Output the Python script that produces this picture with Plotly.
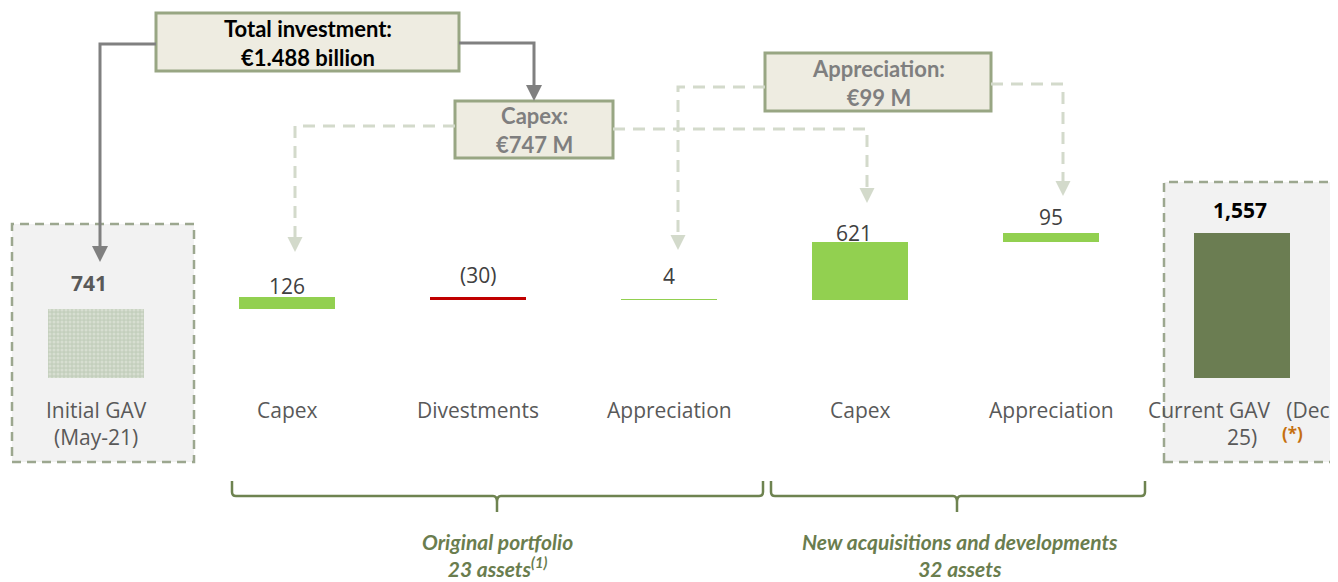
import plotly.graph_objects as go

# ---------------- data ----------------
categories = ["Initial GAV<br>(May-21)", "Capex", "Divestments", "Appreciation",
              "Capex", "Appreciation", "Current GAV   (Dec-<br>25)"]
values = [741, 126, -30, 4, 621, 95, 1557]
kinds = ["total", "relative", "relative", "relative", "relative", "relative", "total"]
value_labels = ["741", "126", "(30)", "4", "621", "95", "1,557"]
bar_colors = ["#c4cfbd", "#92d050", "#c00000", "#92d050", "#92d050", "#92d050", "#6b7d52"]
group_labels = ["Original portfolio<br>23 assets<sup>(1)</sup>",
                "New acquisitions and developments<br>32 assets"]
box_texts = ["Total investment:<br>€1.488 billion", "Capex:<br>€747 M", "Appreciation:<br>€99 M"]

# page offset (browser body margin)
OFF = 8
W, H = 1338 - OFF, 582 - OFF

# waterfall bases computed from values
bases, heights = [], []
run = 0
for v, k in zip(values, kinds):
    if k == "total":
        bases.append(0)
        heights.append(v)
        run = v
    else:
        bases.append(run)
        heights.append(v)
        run += v

xs = list(range(len(values)))

def px(x):
    return (x - OFF) / W

def py(y):
    return 1 - (y - OFF) / H

fig = go.Figure()

# pattern bar (Initial GAV)
fig.add_trace(go.Bar(
    x=[xs[0]], y=[heights[0]], base=[bases[0]], width=0.505,
    marker=dict(color=bar_colors[0], line=dict(width=0),
                pattern=dict(shape=".", fgcolor="#e9ede6", bgcolor=bar_colors[0], size=4, solidity=0.45)),
    hoverinfo="skip", showlegend=False))
fig.add_trace(go.Bar(
    x=xs[1:], y=heights[1:], base=bases[1:], width=0.505,
    marker=dict(color=bar_colors[1:], line=dict(width=0)),
    hoverinfo="skip", showlegend=False))

shapes = []
annotations = []

# dashed grey boxes around totals
for (x0, y0, x1, y1) in [(12, 224, 194, 462), (1164, 182, 1346, 462)]:
    shapes.append(dict(type="rect", xref="paper", yref="paper",
                       x0=px(x0), x1=px(x1), y0=py(y1), y1=py(y0),
                       fillcolor="#f2f2f2", line=dict(color="#9ca78f", width=2.5, dash="9px,6px"),
                       layer="below"))

# label boxes
boxes = [(156, 13, 459, 71, "#000000"), (455, 101, 613, 158, "#7f7f7f"), (765, 53, 991, 111, "#7f7f7f")]
for (x0, y0, x1, y1, col), t in zip(boxes, box_texts):
    shapes.append(dict(type="rect", xref="paper", yref="paper",
                       x0=px(x0), x1=px(x1), y0=py(y1), y1=py(y0),
                       fillcolor="#eeece1", line=dict(color="#98a683", width=3)))
    annotations.append(dict(xref="paper", yref="paper", x=px((x0 + x1) / 2), y=py((y0 + y1) / 2 + 1),
                            text="<b>" + t + "</b>", showarrow=False, align="center",
                            font=dict(family="Lato", size=22, color=col),
                            xanchor="center", yanchor="middle"))

def path(points):
    return "M " + " L ".join(f"{px(x)},{py(y)}" for x, y in points)

def tri(xc, ytip, w=16, h=16):
    return path([(xc - w / 2, ytip - h), (xc + w / 2, ytip - h), (xc, ytip)]) + " Z"

solid = "#808080"
light = "#d3dacb"
# solid arrows
for pts in [[(156, 44), (100, 44), (100, 248)], [(459, 43), (534, 43), (534, 88)]]:
    shapes.append(dict(type="path", xref="paper", yref="paper", path=path(pts),
                       line=dict(color=solid, width=3)))
for xc, yt in [(100, 262), (534, 101)]:
    shapes.append(dict(type="path", xref="paper", yref="paper", path=tri(xc, yt),
                       fillcolor=solid, line=dict(width=0)))
# dashed arrows
for pts in [[(455, 126), (295, 126), (295, 238)], [(613, 129), (867, 129), (867, 190)],
            [(765, 87), (678, 87), (678, 236)], [(991, 84), (1063, 84), (1063, 182)]]:
    shapes.append(dict(type="path", xref="paper", yref="paper", path=path(pts),
                       line=dict(color=light, width=3, dash="12px,8px")))
for xc, yt in [(295, 252), (867, 203), (678, 250), (1063, 196)]:
    shapes.append(dict(type="path", xref="paper", yref="paper", path=tri(xc, yt, 15, 15),
                       fillcolor=light, line=dict(width=0)))

# braces
brace_col = "#6e8350"
for xl, xm, xr in [(232, 497, 763), (771, 957, 1145)]:
    p = (f"M {px(xl)},{py(481)} L {px(xl)},{py(492)} Q {px(xl)},{py(496)} {px(xl+4)},{py(496)} "
         f"L {px(xm-4)},{py(496)} Q {px(xm)},{py(496)} {px(xm)},{py(502)} L {px(xm)},{py(512)} "
         f"M {px(xm)},{py(502)} Q {px(xm)},{py(496)} {px(xm+4)},{py(496)} "
         f"L {px(xr-4)},{py(496)} Q {px(xr)},{py(496)} {px(xr)},{py(492)} L {px(xr)},{py(481)}")
    shapes.append(dict(type="path", xref="paper", yref="paper", path=p,
                       line=dict(color=brace_col, width=2.5)))

for cx, t in zip([497, 960], group_labels):
    annotations.append(dict(xref="paper", yref="paper", x=px(cx), y=py(555),
                            text="<b><i>" + t + "</i></b>", showarrow=False, align="center",
                            font=dict(family="Lato", size=21, color="#6a7d4e"),
                            xanchor="center", yanchor="middle"))

# category labels
for i, c in enumerate(categories):
    two = "<br>" in c
    annotations.append(dict(xref="x", yref="paper", x=xs[i], y=py(423.5 if two else 410),
                            text=c, showarrow=False, align="center",
                            font=dict(family="Open Sans", size=21, color="#595959"),
                            xanchor="center", yanchor="middle"))
annotations.append(dict(xref="paper", yref="paper", x=px(1292), y=py(433), text="<b>(*)</b>",
                        showarrow=False, font=dict(family="Open Sans", size=17, color="#c5700f"),
                        xanchor="center", yanchor="middle"))

# value labels (centre offset in pixels above each bar top)
tops = [max(b, b + h) for b, h in zip(bases, heights)]
offsets = [26, 11, 22, 24, 9, 16, 23]
dx = [-7, 0, 0, 0, -6, 0, -2]
for i, t in enumerate(value_labels):
    bold = i in (0, 6)
    annotations.append(dict(xref="x", yref="y", x=xs[i], y=tops[i], yshift=offsets[i], xshift=dx[i],
                            text=("<b>" + t + "</b>") if bold else t, showarrow=False,
                            font=dict(family="Open Sans", size=21,
                                      color="#000000" if i == 6 else ("#595959" if i == 0 else "#404040")),
                            xanchor="center", yanchor="middle"))

y_top = (378 - OFF) / 0.0932
y_bot = -(582 - 378) / 0.0932
fig.update_layout(
    width=W, height=H, margin=dict(l=0, r=0, t=0, b=0),
    paper_bgcolor="white", plot_bgcolor="white",
    xaxis=dict(range=[(OFF - 96) / 191, (1338 - 96) / 191], visible=False),
    yaxis=dict(range=[y_bot, y_top], visible=False),
    shapes=shapes, annotations=annotations, bargap=0, showlegend=False,
)
fig.write_html("out.html")
